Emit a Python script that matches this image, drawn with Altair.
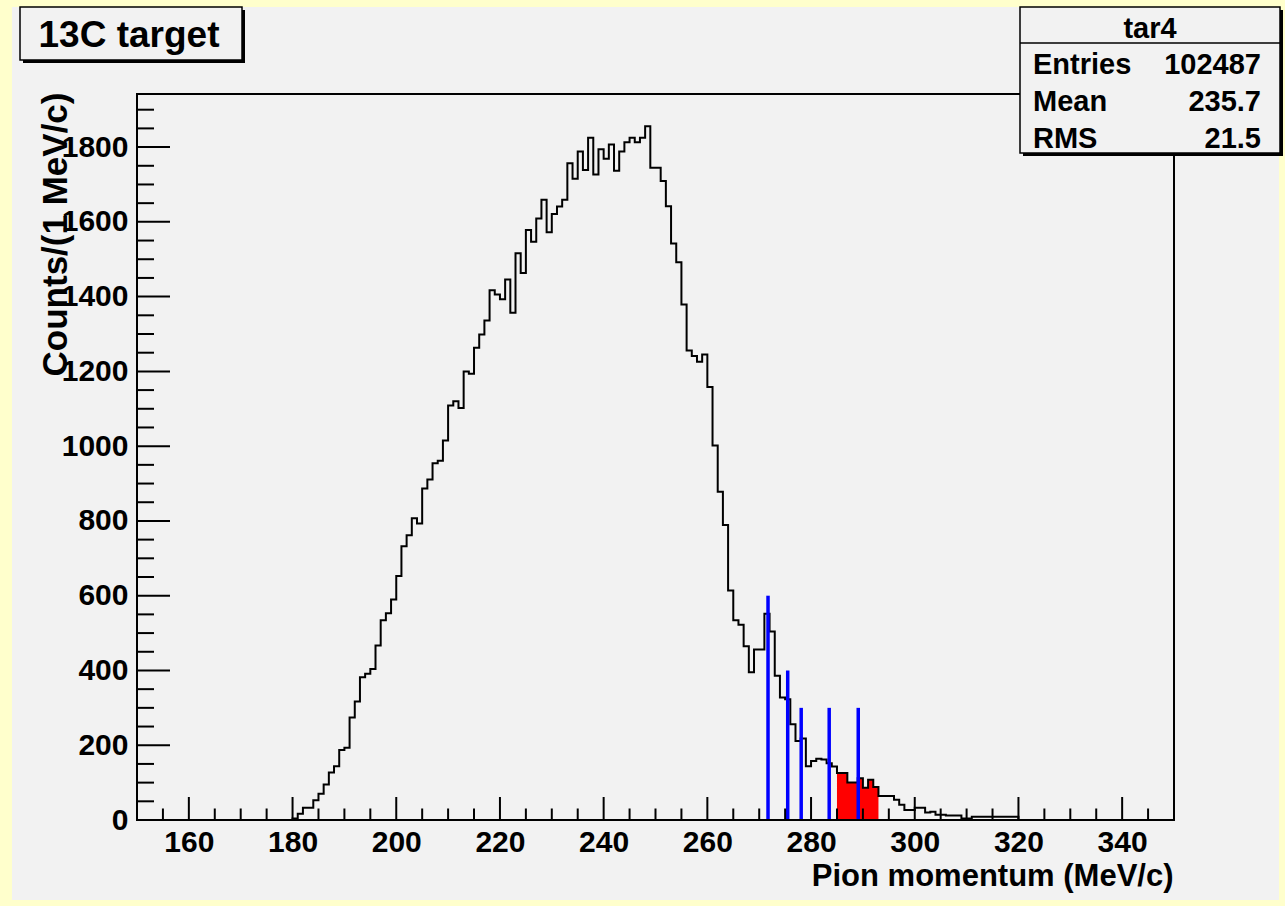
import altair as alt
import pandas as pd

# Histogram "tar4": pion momentum in 1 MeV/c bins from 150 to 350 MeV/c
x_min, x_max = 150, 350
y_max = 1942
first_bin = 180
counts = [
    4, 17, 33, 33, 53, 70, 95, 127, 144, 187,                    # 180-189
    193, 274, 317, 382, 391, 404, 467, 534, 553, 590,            # 190-199
    653, 732, 762, 807, 793, 887, 911, 954, 961, 1015,           # 200-209
    1109, 1120, 1102, 1200, 1194, 1263, 1299, 1336, 1417, 1406,  # 210-219
    1393, 1446, 1357, 1516, 1463, 1578, 1547, 1609, 1659, 1572,  # 220-229
    1621, 1641, 1659, 1757, 1715, 1788, 1739, 1825, 1727, 1794,  # 230-239
    1769, 1807, 1737, 1788, 1813, 1825, 1813, 1825, 1856, 1745,  # 240-249
    1745, 1709, 1642, 1542, 1492, 1379, 1256, 1241, 1226, 1245,  # 250-259
    1158, 1002, 878, 789, 614, 534, 522, 465, 395, 456,          # 260-269
    456, 552, 504, 386, 328, 323, 256, 211, 218, 144,            # 270-279
    158, 164, 162, 152, 143, 126, 126, 100, 100, 112,            # 280-289
    86, 108, 88, 64, 64, 64, 54, 41, 27, 27,                     # 290-299
    33, 33, 20, 22, 14, 14, 12, 12, 12, 4,                       # 300-309
    4, 9, 9, 9, 9, 9, 9, 9, 9, 9,                                # 310-319
]

# Shaded momentum window
shade_lo, shade_hi = 285, 293

# Marker lines: position (MeV/c) and height (counts)
marker_pos = [271.7, 275.5, 278.1, 283.5, 289.1]
marker_height = [600, 400, 300, 300, 300]

# Axis ticks
x_major = list(range(160, 341, 20))
x_minor = [v for v in range(155, 350, 5) if v % 20 != 0]
y_major = list(range(0, 1801, 200))
y_minor = [v for v in range(50, 1901, 50) if v % 200 != 0]

# Statistics box
stats_name = "tar4"
stats_labels = ["Entries", "Mean", "RMS"]
stats_values = ["102487", "235.7", "21.5"]

plot_title = "13C target"
x_title = "Pion momentum (MeV/c)"
y_title = "Counts/(1 MeV/c)"

# ---- tables built from the arrays above ----
full = [0] * (first_bin - x_min) + counts
full += [0] * (x_max - x_min - len(full))
lows = list(range(x_min, x_max))
step = pd.DataFrame({"p": lows + [x_max], "n": full + [full[-1]]})
shade_n = full[shade_lo - x_min:shade_hi - x_min]
shaded = pd.DataFrame({
    "p": list(range(shade_lo, shade_hi)) + [shade_hi],
    "n": shade_n + [shade_n[-1]],
})
markers = pd.DataFrame({"p": marker_pos, "h": marker_height, "z": 0})
one = pd.DataFrame({"k": [0]})

FONT = "Liberation Sans"
W, H = 1037, 726
xs = alt.Scale(domain=[x_min, x_max], nice=False, zero=False)
ys = alt.Scale(domain=[0, y_max], nice=False, zero=False)

# The same axis definitions are given to every layer so they merge cleanly
x_axis = alt.Axis(
    values=x_major, format="d", title=x_title, ticks=False, tickSize=0, domain=False,
    grid=False, zindex=2,
    labelFont=FONT, labelFontSize=30, labelFontWeight="bold", labelColor="black",
    labelPadding=31, labelBaseline="alphabetic", labelFlush=False, labelOverlap=False,
    titleFont=FONT, titleFontSize=31, titleFontWeight="bold", titleColor="black",
    titleAlign="right", titleAnchor="end", titleBaseline="alphabetic",
    titleX=W - 1, titleY=65,
)
y_axis = alt.Axis(
    values=y_major, format="d", title=y_title, ticks=False, tickSize=0, domain=False,
    grid=False, zindex=2,
    labelFont=FONT, labelFontSize=30, labelFontWeight="bold", labelColor="black",
    labelPadding=9, labelAlign="right", labelBaseline="middle", labelFlush=False,
    labelOverlap=False,
    titleFont=FONT, titleFontSize=35, titleFontWeight="bold", titleColor="black",
    titleAngle=270, titleAlign="right", titleBaseline="alphabetic",
    titleX=-71, titleY=-2,
)


def X(field):
    return alt.X(field, scale=xs, axis=x_axis)


def Y(field):
    return alt.Y(field, scale=ys, axis=y_axis)


# Canvas panel inside the outer border
panel = alt.Chart(one).mark_rect(color="#F2F2F2").encode(
    x=alt.value(-125), x2=alt.value(1142), y=alt.value(-87), y2=alt.value(806)
)

# Shaded bins
fill = alt.Chart(shaded).mark_area(interpolate="step-after", color="#FF0000", opacity=1).encode(
    x=X("p:Q"), y=Y("n:Q"), y2=alt.datum(0),
)

# Histogram outline
outline = alt.Chart(step).mark_line(
    interpolate="step-after", color="black", strokeWidth=2
).encode(x=X("p:Q"), y=Y("n:Q"))

# Marker lines
rules = alt.Chart(markers).mark_rule(color="#0000FF", strokeWidth=3.5).encode(
    x=X("p:Q"), y=Y("h:Q"), y2="z:Q",
)


# Inward ticks
def xticks(vals, length):
    return alt.Chart(pd.DataFrame({"t": vals})).mark_rule(color="black", strokeWidth=2).encode(
        x=X("t:Q"), y=alt.value(H), y2=alt.value(H - length)
    )


def yticks(vals, length):
    return alt.Chart(pd.DataFrame({"t": vals})).mark_rule(color="black", strokeWidth=2).encode(
        y=Y("t:Q"), x=alt.value(0), x2=alt.value(length)
    )


frame = alt.Chart(one).mark_rect(filled=False, stroke="black", strokeWidth=2).encode(
    x=alt.value(0), x2=alt.value(W), y=alt.value(0), y2=alt.value(H)
)


def box(x0, y0, x1, y1):
    shadow = alt.Chart(one).mark_rect(color="black").encode(
        x=alt.value(x0 + 3), x2=alt.value(x1 + 3), y=alt.value(y0 + 3), y2=alt.value(y1 + 3)
    )
    body = alt.Chart(one).mark_rect(fill="#F2F2F2", stroke="black", strokeWidth=1.5).encode(
        x=alt.value(x0), x2=alt.value(x1), y=alt.value(y0), y2=alt.value(y1)
    )
    return [shadow, body]


def label(text, x, y, size, align):
    return alt.Chart(pd.DataFrame({"s": [text]})).mark_text(
        font=FONT, fontSize=size, fontWeight="bold", color="black",
        align=align, baseline="alphabetic",
    ).encode(x=alt.value(x), y=alt.value(y), text="s:N")


layers = [panel, fill, outline, rules,
          xticks(x_major, 23), xticks(x_minor, 11.5),
          yticks(y_major, 33), yticks(y_minor, 17),
          frame]

# Title box
layers += box(-117, -87, 105, -34)
layers.append(label(plot_title, -8, -47, 37, "center"))

# Statistics box
sx0, sy0, sx1, sy1 = 883, -87, 1143, 59
layers += box(sx0, sy0, sx1, sy1)
layers.append(alt.Chart(one).mark_rule(color="black", strokeWidth=1.5).encode(
    x=alt.value(sx0), x2=alt.value(sx1), y=alt.value(-51)))
layers.append(label(stats_name, (sx0 + sx1) / 2, -56, 29, "center"))
for i, (name, val) in enumerate(zip(stats_labels, stats_values)):
    yy = -20 + 37 * i
    layers.append(label(name, 896, yy, 29, "left"))
    layers.append(label(val, 1124, yy, 29, "right"))

chart = alt.layer(*layers).properties(
    width=W, height=H,
    padding={"left": 137, "top": 94, "right": 1285 - 137 - W, "bottom": 906 - 94 - H},
    autosize=alt.AutoSizeParams(type="none"),
    background="#FFFFCC",
).configure_view(stroke=None, fill="#F2F2F2")

chart.save("out.html", embed_options={"renderer": "svg", "actions": False})
